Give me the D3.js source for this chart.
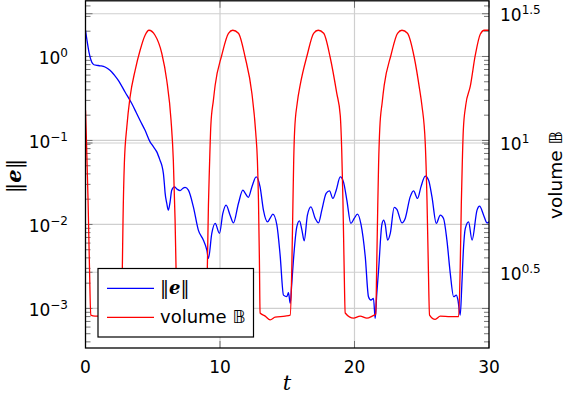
<!DOCTYPE html>
<html>
<head>
<meta charset="utf-8">
<script src="https://cdn.jsdelivr.net/npm/d3@7"></script>
<style>
  body { margin: 0; background: #fff; }
  svg { display: block; }
  text { font-family: 'DejaVu Sans', 'Liberation Sans', sans-serif; fill: #000; }
</style>
</head>
<body>
<div id="chart"></div>
<script>
// error norm ||e|| (left log axis)
const tErr = [
  0, 0.11, 0.26, 0.46, 0.63, 0.83, 1.08, 1.45,
  1.67, 1.95, 2.19, 2.44, 2.94, 3.44, 3.76, 4.05,
  4.43, 4.80, 5.02, 5.30, 5.54, 5.69, 5.79, 5.86,
  5.92, 6.04, 6.16, 6.29, 6.41, 6.61, 6.81, 7.03,
  7.25, 7.40, 7.65, 8.02, 8.39, 8.76, 9.02, 9.14,
  9.39, 9.64, 9.96, 10.21, 10.45, 10.75, 11.00, 11.37,
  11.70, 11.87, 12.11, 12.37, 12.69, 12.98, 13.23, 13.53,
  13.73, 13.93, 14.23, 14.47, 14.72, 14.97, 15.09, 15.22,
  15.33, 15.46, 15.71, 15.91, 16.09, 16.26, 16.50, 16.76,
  17.08, 17.32, 17.57, 17.89, 18.14, 18.39, 18.64, 18.94,
  19.18, 19.43, 19.73, 19.98, 20.22, 20.48, 20.80, 21.04,
  21.22, 21.41, 21.54, 21.65, 21.79, 22.04, 22.17, 22.28,
  22.46, 22.66, 22.95, 23.15, 23.53, 23.77, 24.14, 24.39,
  24.69, 24.94, 25.26, 25.51, 25.76, 26.08, 26.38, 26.62,
  26.87, 27.12, 27.37, 27.57, 27.69, 27.86, 27.98, 28.11,
  28.24, 28.48, 28.74, 29.11, 29.30, 29.60, 29.85, 30
];
const errNorm = [
  2.05, 1.56, 1.12, 0.860, 0.797, 0.786, 0.775, 0.750,
  0.714, 0.654, 0.589, 0.521, 0.378, 0.275, 0.217, 0.174,
  0.132, 0.0961, 0.0855, 0.0731, 0.0582, 0.0494, 0.0405, 0.0310,
  0.0236, 0.0179, 0.0148, 0.0186, 0.0256, 0.0280, 0.0263, 0.0253,
  0.0270, 0.0276, 0.0256, 0.0162, 0.00856, 0.00651, 0.00495, 0.00394,
  0.00782, 0.01028, 0.00782, 0.01352, 0.01698, 0.01291, 0.01045, 0.01779,
  0.0256, 0.0236, 0.0210, 0.0280, 0.0368, 0.0280, 0.0148, 0.01074,
  0.01189, 0.01327, 0.00981, 0.00432, 0.00144, 0.00138, 0.00154, 0.00115,
  0.00190, 0.00376, 0.00937, 0.01104, 0.00856, 0.00639, 0.01291, 0.0162,
  0.01179, 0.01045, 0.0148, 0.0234, 0.0251, 0.0204, 0.0256, 0.0368,
  0.0321, 0.0195, 0.01028, 0.01179, 0.01327, 0.01009, 0.00412, 0.00138,
  0.00126, 0.00132, 0.00076, 0.00144, 0.00286, 0.01009, 0.01126, 0.01009,
  0.00651, 0.00782, 0.01594, 0.01509, 0.01045, 0.01179, 0.0213, 0.0251,
  0.0204, 0.0280, 0.0376, 0.0337, 0.0213, 0.01028, 0.01291, 0.01179,
  0.00651, 0.00262, 0.00138, 0.00144, 0.00126, 0.000834, 0.00190, 0.00542,
  0.00897, 0.01074, 0.00651, 0.0148, 0.0165, 0.01291, 0.01045, 0.01074
];

// volume B (right log axis)
const tVol = [
  0, 0.07, 0.19, 0.30, 0.39, 0.71, 1.45, 2.19, 2.68, 2.74,
  2.79, 2.89, 3.07, 3.31, 3.69, 4.06, 4.43, 4.72, 5.17, 5.67,
  6.04, 6.36, 6.53, 6.66, 6.73, 6.79, 7.40, 8.15, 8.89, 9.00,
  9.06, 9.14, 9.21, 9.32, 9.51, 9.64, 10.13, 10.63, 10.95, 11.37,
  11.87, 12.37, 12.66, 12.78, 12.86, 12.93, 12.98, 13.36, 13.73, 14.10,
  14.84, 15.22, 15.34, 15.42, 15.48, 15.55, 15.74, 15.96, 16.48, 16.96,
  17.30, 17.71, 18.19, 18.68, 18.94, 19.05, 19.14, 19.22, 19.31, 19.93,
  20.42, 20.92, 21.32, 21.58, 21.65, 21.73, 21.79, 21.88, 22.06, 22.21,
  22.71, 23.20, 23.53, 23.94, 24.44, 24.85, 25.01, 25.26, 25.39, 25.48,
  25.58, 26.00, 26.38, 27.12, 27.74, 27.86, 27.94, 28.01, 28.09, 28.27,
  28.61, 28.98, 29.35, 29.65, 30
];
const volume = [
  13.39, 10.25, 6.01, 3.22, 2.16, 2.14, 2.14, 2.13, 2.14, 3.32,
  5.03, 8.36, 11.51, 15.03, 19.11, 22.84, 26.11, 27.29, 26.11, 22.24,
  17.49, 12.25, 8.58, 5.03, 3.31, 2.16, 2.14, 2.14, 2.14, 2.47,
  3.31, 5.75, 7.85, 11.72, 14.64, 16.73, 21.85, 26.57, 27.29, 26.57,
  21.46, 15.58, 10.91, 8.58, 6.01, 3.52, 2.20, 2.14, 2.07, 2.12,
  2.14, 2.16, 3.31, 5.75, 8.58, 11.21, 14.25, 16.73, 21.85, 26.57,
  27.29, 26.57, 21.46, 15.58, 12.81, 9.38, 6.01, 3.52, 2.20, 2.10,
  2.14, 2.10, 2.14, 2.18, 3.31, 5.75, 8.21, 11.41, 14.38, 16.73,
  21.85, 26.57, 27.29, 26.57, 21.46, 16.00, 14.00, 9.98, 6.01, 3.52,
  2.16, 2.08, 2.14, 2.13, 2.13, 3.31, 5.75, 8.21, 11.21, 14.00,
  16.58, 21.85, 26.34, 27.29, 27.29
];

// ticks
const xTicks = [0, 10, 20, 30];
const leftExp = [-3, -2, -1, 0];
const leftExpLabels = ['\u22123', '\u22122', '\u22121', '0'];
const rightExp = [0.5, 1, 1.5];
const rightExpLabels = ['0.5', '1', '1.5'];

const W = 568, H = 396;
const plot = { left: 85.5, right: 489, top: 0.8, bottom: 348 };

const svg = d3.select('#chart').append('svg')
  .attr('width', W).attr('height', H);

const x = d3.scaleLinear().domain([0, 30]).range([plot.left, plot.right]);
const yL = d3.scaleLog()
  .domain([Math.pow(10, -3.471), Math.pow(10, 0.663)])
  .range([plot.bottom, plot.top]);
const yR = d3.scaleLog()
  .domain([Math.pow(10, 0.207), Math.pow(10, 1.55)])
  .range([plot.bottom, plot.top]);

svg.append('clipPath').attr('id', 'clip')
  .append('rect')
  .attr('x', plot.left).attr('y', plot.top)
  .attr('width', plot.right - plot.left).attr('height', plot.bottom - plot.top);

// grid lines
const grid = svg.append('g').attr('stroke', '#cfcfcf').attr('stroke-width', 1.2);
xTicks.slice(1, -1).forEach(v => {
  grid.append('line')
    .attr('x1', x(v)).attr('x2', x(v))
    .attr('y1', plot.top).attr('y2', plot.bottom);
});
leftExp.forEach(e => {
  const yy = yL(Math.pow(10, e));
  grid.append('line').attr('x1', plot.left).attr('x2', plot.right).attr('y1', yy).attr('y2', yy);
});
rightExp.forEach(e => {
  const yy = yR(Math.pow(10, e));
  grid.append('line').attr('x1', plot.left).attr('x2', plot.right).attr('y1', yy).attr('y2', yy);
});

// tick marks (drawn inward on both sides, like pgfplots)
const ticks = svg.append('g').attr('stroke', '#666').attr('stroke-width', 0.9);
const [lo, hi] = yL.domain();
for (let k = -4; k <= 0; k++) {
  for (let i = 1; i <= 9; i++) {
    const v = i * Math.pow(10, k);
    if (v < lo || v > hi) continue;
    const len = i === 1 ? 7 : 5;
    const yy = yL(v);
    ticks.append('line').attr('x1', plot.left).attr('x2', plot.left + len).attr('y1', yy).attr('y2', yy);
    ticks.append('line').attr('x1', plot.right).attr('x2', plot.right - len).attr('y1', yy).attr('y2', yy);
  }
}
rightExp.forEach(e => {
  const yy = yR(Math.pow(10, e));
  ticks.append('line').attr('x1', plot.right).attr('x2', plot.right - 7).attr('y1', yy).attr('y2', yy);
  ticks.append('line').attr('x1', plot.left).attr('x2', plot.left + 7).attr('y1', yy).attr('y2', yy);
});
xTicks.forEach(v => {
  ticks.append('line').attr('x1', x(v)).attr('x2', x(v)).attr('y1', plot.bottom).attr('y2', plot.bottom - 7);
  ticks.append('line').attr('x1', x(v)).attr('x2', x(v)).attr('y1', plot.top).attr('y2', plot.top + 7);
});

// curves
const lineErr = d3.line()
  .x((d, i) => x(tErr[i]))
  .y(d => yL(d))
  .curve(d3.curveMonotoneX);
const lineVol = d3.line()
  .x((d, i) => x(tVol[i]))
  .y(d => yR(d))
  .curve(d3.curveMonotoneX);

const curves = svg.append('g').attr('clip-path', 'url(#clip)');
curves.append('path')
  .attr('d', lineErr(errNorm))
  .attr('fill', 'none').attr('stroke', '#0000ff').attr('stroke-width', 1.3)
  .attr('stroke-linejoin', 'round');
curves.append('path')
  .attr('d', lineVol(volume))
  .attr('fill', 'none').attr('stroke', '#ff0000').attr('stroke-width', 1.3)
  .attr('stroke-linejoin', 'round');

// frame
svg.append('rect')
  .attr('x', plot.left).attr('y', plot.top)
  .attr('width', plot.right - plot.left).attr('height', plot.bottom - plot.top)
  .attr('fill', 'none').attr('stroke', '#000').attr('stroke-width', 1.3);

// tick labels
xTicks.forEach(v => {
  svg.append('text')
    .attr('x', x(v)).attr('y', 372.5)
    .attr('text-anchor', 'middle')
    .style('font-size', '17px')
    .text(v);
});

function powLabel(xPos, yPos, expText, anchor) {
  const t = svg.append('text')
    .attr('x', xPos).attr('y', yPos)
    .attr('text-anchor', anchor)
    .style('font-size', '17px');
  t.append('tspan').text('10');
  t.append('tspan').attr('dy', -7).style('font-size', '12px').text(expText);
}
leftExp.forEach((e, i) => {
  powLabel(68, yL(Math.pow(10, e)) + 7.5, leftExpLabels[i], 'end');
});
rightExp.forEach((e, i) => {
  powLabel(500, yR(Math.pow(10, e)) + 7.5, rightExpLabels[i], 'start');
});

// axis labels
svg.append('text')
  .attr('x', 287).attr('y', 390)
  .attr('text-anchor', 'middle')
  .style('font-family', "'DejaVu Serif', serif")
  .style('font-style', 'italic')
  .style('font-size', '21px')
  .text('t');

function normLabel(sel, size) {
  sel.style('font-family', "'DejaVu Serif', serif").style('font-size', size);
  sel.append('tspan').style('font-weight', '300').text('\u2016');
  sel.append('tspan').style('font-weight', 'bold').style('font-style', 'italic').text('e');
  sel.append('tspan').style('font-weight', '300').text('\u2016');
}

normLabel(svg.append('text')
  .attr('transform', 'translate(21,176) rotate(-90)')
  .attr('text-anchor', 'middle'), '21px');

const volLabel = svg.append('text')
  .attr('transform', 'translate(562,175) rotate(-90)')
  .attr('text-anchor', 'middle')
  .style('font-family', "'DejaVu Sans', sans-serif")
  .style('font-size', '18.5px');
volLabel.append('tspan').text('volume ');
volLabel.append('tspan').text('\uD835\uDD39');

// legend
const lg = svg.append('g');
lg.append('rect')
  .attr('x', 98).attr('y', 268.5).attr('width', 155.5).attr('height', 68.5)
  .attr('fill', '#fff').attr('stroke', '#000').attr('stroke-width', 1.2);
lg.append('line').attr('x1', 107).attr('x2', 154).attr('y1', 288.3).attr('y2', 288.3)
  .attr('stroke', '#0000ff').attr('stroke-width', 1.3);
lg.append('line').attr('x1', 107).attr('x2', 154).attr('y1', 317.3).attr('y2', 317.3)
  .attr('stroke', '#ff0000').attr('stroke-width', 1.3);
normLabel(lg.append('text').attr('x', 160).attr('y', 294), '18px');
const lgVol = lg.append('text').attr('x', 160).attr('y', 322.7)
  .style('font-family', "'DejaVu Sans', sans-serif")
  .style('font-size', '18px');
lgVol.append('tspan').text('volume ');
lgVol.append('tspan').text('\uD835\uDD39');
</script>
</body>
</html>
